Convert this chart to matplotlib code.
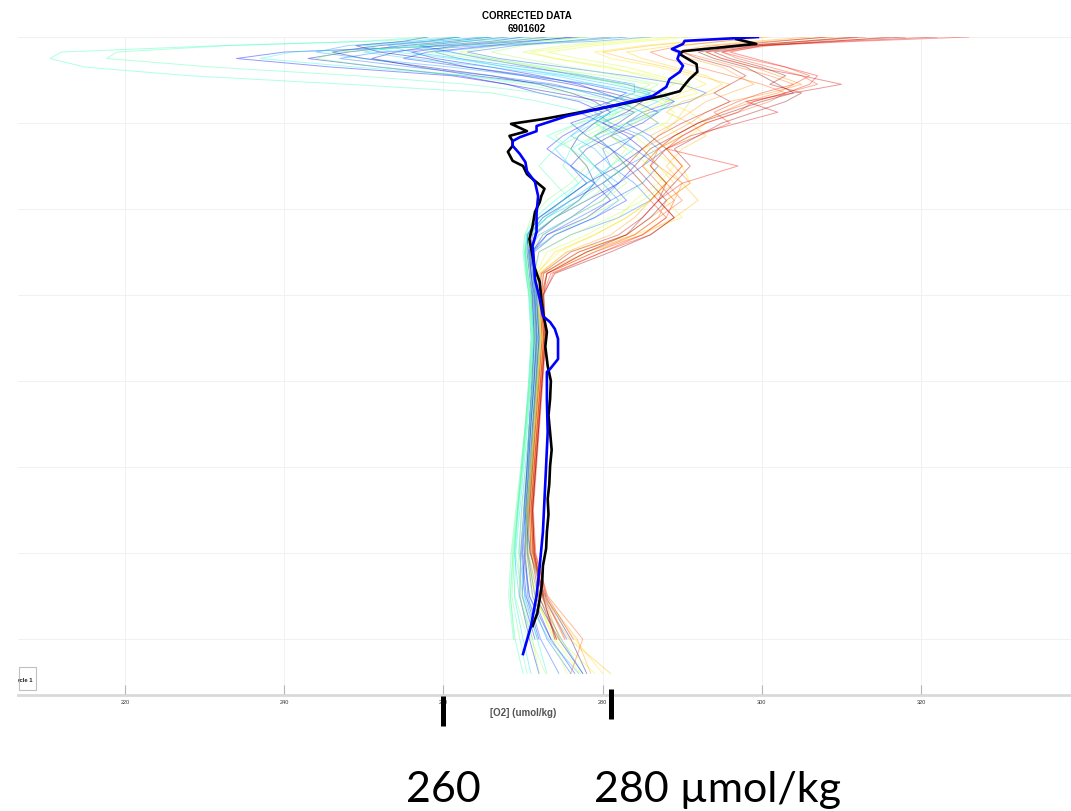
import numpy as np
import matplotlib
matplotlib.use("Agg")
import matplotlib.pyplot as plt
from matplotlib.patches import Rectangle
from matplotlib.lines import Line2D
from matplotlib.transforms import blended_transform_factory

nan = np.nan

# ---------------- data ----------------
title_line1 = "CORRECTED DATA"
title_line2 = "6901602"
x_label = "[O2] (umol/kg)"
x_ticks = [220, 240, 260, 280, 300, 320]
y_grid = [0, 200, 400, 600, 800, 1000, 1200, 1400]
legend_label = "Cycle 1"
note_left = "260"
note_right = "280 µmol/kg"
note_marks = [260, 281]

# pressure levels of the thin cycle profiles (dbar)
pres_levels = [0, 10, 20, 35, 50, 70, 90, 110, 130, 150,
               175, 200, 230, 260, 300, 340, 380, 420, 460, 500,
               550, 600, 700, 800, 900, 1000, 1100, 1200, 1300, 1400, 1480]

cycle_01 = [262, 258, 252, 246, 250, 258, 266, 272, 276, 279,
            281, 279, 277, 276, 278, 279, 277, 274, 271.5, 270.8,
            271.0, 271.3, 271.6, 271.4, 271.0, 270.7, 270.4, 270.6, 271.5, 274.5, 277.5]
cycle_02 = [258, 255, 249, 252, 258, 263, 270, 276, 281, 285,
            283, 280, 283, 285, 282, 278, 275, 272, 270.6, 270.5,
            270.8, 271.1, 271.4, 271.2, 270.8, 270.5, 270.2, 270.9, 272.8, 276.0, 278.0]
cycle_03 = [266, 261, 255, 248, 243, 252, 262, 268, 274, 280,
            284, 282, 279, 281, 283, 280, 276, 272.5, 270.8, 270.9,
            271.2, 271.5, 271.8, 271.6, 271.2, 270.9, 270.5, 270.2, 270.8, 273.5, nan]
cycle_04 = [270, 266, 259, 254, 251, 257, 264, 273, 279, 284,
            287, 285, 281, 278, 276, 279, 281, 278, 273, 271.0,
            271.3, 271.6, 272.0, 271.7, 271.3, 271.0, 270.6, 270.2, 269.9, 271.5, nan]
cycle_05 = [277, 270, 262, 256, 259, 266, 272, 277, 280, 283,
            280, 276, 278, 281, 284, 282, 278, 274, 271.2, 270.8,
            271.0, 271.4, 271.7, 271.4, 271.0, 270.7, 270.3, 269.9, 270.4, 272.0, nan]
cycle_06 = [273, 268, 261, 240, 234, 246, 261, 268, 272, 277,
            280, 278, 275, 273, 276, 278, 275, 272, 270.5, 270.7,
            271.0, 271.2, 271.4, 271.1, 270.8, 270.5, 270.1, 269.7, 269.6, 270.8, 272]
cycle_07 = [276, 271, 266, 258, 255, 263, 271, 278, 283, 281,
            277, 280, 284, 282, 279, 281, 283, 279, 274, 271.4,
            271.5, 271.8, 272.1, 271.8, 271.4, 271.1, 270.7, 270.5, 271.2, 273.5, 276.5]
cycle_08 = [268, 263, 257, 261, 265, 271, 277, 283, 287, 289,
            285, 283, 286, 288, 285, 282, 279, 276, 272.5, 271.2,
            271.4, 271.7, 272.0, 271.7, 271.3, 271.0, 270.5, 270.9, 272.5, 275.5, nan]
cycle_09 = [281, 275, 269, 263, 267, 275, 283, 290, 293, 291,
            286, 283, 281, 284, 287, 285, 281, 277, 273, 271.3,
            271.5, 271.9, 272.2, 271.9, 271.5, 271.2, 270.8, 270.3, 270.6, 272.2, 274.5]
cycle_10 = [283, 276, 265, 252, 247, 256, 266, 274, 278, 282,
            285, 287, 284, 280, 281, 284, 286, 282, 276, 272.0,
            271.4, 271.7, 272.0, 271.6, 271.2, 270.8, 270.4, 270.0, 270.8, 273.0, 276]
cycle_11 = [286, 279, 267, 259, 262, 270, 278, 284, 284, 281,
            279, 281, 285, 287, 283, 280, 282, 279, 274, 271.0,
            271.2, 271.5, 271.8, 271.4, 271.0, 270.6, 270.2, 269.8, 270.2, 271.8, nan]
cycle_12 = [262, 256, 248, 244, 250, 261, 270, 279, 285, 289,
            287, 284, 280, 277, 279, 282, 280, 276, 272, 270.7,
            271.0, 271.4, 271.7, 271.3, 270.9, 270.5, 270.1, 270.6, 271.9, 274.8, 277.5]
cycle_13 = [265, 259, 253, 256, 262, 268, 275, 281, 286, 284,
            281, 278, 276, 279, 281, 279, 276, 273, 270.9, 270.6,
            270.9, 271.2, 271.5, 271.2, 270.8, 270.3, 269.8, 269.5, 270.3, 273.2, 277]
cycle_14 = [271, 263, 256, 250, 256, 266, 274, 279, 283, 287,
            284, 279, 276, 274, 276, 279, 277, 273, 270.6, 270.2,
            270.4, 270.7, 271.0, 270.7, 270.3, 269.8, 269.3, 268.9, 269.5, 271.2, nan]
cycle_15 = [266, 258, 250, 254, 261, 268, 276, 283, 286, 283,
            281, 279, 282, 284, 281, 278, 275, 272.5, 270.6, 270.3,
            270.6, 271.0, 271.3, 271.0, 270.6, 270.1, 269.6, 269.1, 268.9, 270.0, 271]
cycle_16 = [278, 272, 262, 241, 237, 249, 263, 272, 279, 284,
            282, 277, 273, 276, 279, 277, 274, 271.5, 270.2, 270.0,
            270.3, 270.8, 271.1, 270.8, 270.4, 269.9, 269.4, 269.0, 270.0, 271.8, 273]
cycle_17 = [258, 250, 232, 212, 210.6, 215, 228, 248, 266, 272,
            278, 281, 279, 276, 275, 277, 275, 272, 270.4, 270.3,
            270.6, 271.0, 271.3, 270.9, 270.4, 269.9, 269.3, 268.7, 268.4, 269.0, 270.0]
cycle_18 = [262, 251, 233, 219, 217.7, 231, 249, 263, 272, 278,
            282, 280, 277, 274, 272, 274, 276, 273, 270.5, 270.2,
            270.5, 270.9, 271.2, 270.8, 270.3, 269.7, 269.1, 268.5, 268.2, 268.8, nan]
cycle_19 = [268, 262, 256, 260, 266, 273, 278, 282, 285, 288,
            287, 283, 279, 281, 283, 280, 277, 274, 271, 270.4,
            270.6, 271.0, 271.4, 271.0, 270.5, 270.0, 269.4, 268.9, 268.6, 269.6, 270.5]
cycle_20 = [274, 266, 258, 247, 244, 252, 263, 270, 276, 282,
            285, 283, 279, 277, 279, 281, 278, 274, 271, 270.3,
            270.5, 270.9, 271.2, 270.9, 270.4, 269.9, 269.3, 268.8, 268.4, 268.9, nan]
cycle_21 = [275, 268, 262, 258, 264, 272, 280, 286, 284, 281,
            280, 277, 274, 276, 278, 276, 273, 271, 270.3, 270.1,
            270.4, 270.8, 271.1, 270.8, 270.3, 269.8, 269.2, 268.6, 269.0, 270.6, nan]
cycle_22 = [281, 276, 270, 266, 270, 276, 282, 287, 285, 283,
            284, 281, 278, 280, 283, 285, 282, 278, 274, 271.3,
            271.2, 271.6, 271.9, 271.5, 271.1, 270.7, 270.2, 269.6, 269.9, 271.2, 272]
cycle_23 = [278, 272, 267, 262, 266, 272, 277, 283, 288, 286,
            282, 279, 281, 283, 281, 283, 280, 276, 272.5, 270.8,
            270.9, 271.3, 271.6, 271.2, 270.8, 270.4, 269.9, 269.4, 269.6, 271.0, 272.8]
cycle_24 = [286, 281, 275, 270, 274, 281, 285, 289, 287, 284,
            286, 284, 281, 283, 286, 288, 285, 281, 276, 272.0,
            271.5, 271.8, 272.1, 271.7, 271.3, 270.9, 270.4, 270.6, 271.6, 273.8, 275.5]
cycle_25 = [291, 285, 279, 273, 277, 283, 287, 291, 289, 287,
            289, 288, 284, 286, 289, 287, 284, 282, 278, 273.0,
            271.6, 271.9, 272.2, 271.8, 271.4, 271.0, 270.6, 270.2, 271.2, 274.5, 279]
cycle_26 = [289, 283, 277, 271, 274, 280, 286, 290, 292, 288,
            285, 287, 290, 287, 285, 288, 286, 283, 279, 274.5,
            271.7, 271.9, 272.2, 271.8, 271.4, 271.0, 270.5, 270.4, 271.5, 274.0, 277.2]
cycle_27 = [296, 291, 285, 279, 281, 287, 291, 293, 290, 288,
            291, 293, 291, 288, 290, 291, 288, 290, 284, 275.5,
            272.0, 272.1, 272.4, 272.0, 271.6, 271.2, 270.8, 271.0, 272.6, 276.5, 280]
cycle_28 = [301, 295, 289, 283, 285, 289, 293, 295, 293, 291,
            290, 289, 287, 285, 287, 289, 286, 283, 279, 274.0,
            271.8, 272.0, 272.3, 271.9, 271.5, 271.1, 270.7, 270.7, 271.9, 274.8, nan]
cycle_29 = [298, 292, 286, 280, 283, 288, 292, 296, 294, 290,
            288, 291, 293, 290, 288, 290, 292, 289, 285, 278,
            272.3, 272.1, 272.4, 272.0, 271.6, 271.2, 270.8, 271.0, 272.2, 275.8, 281]
cycle_30 = [306, 299, 293, 289, 291, 295, 297, 299, 296, 293,
            291, 289, 286, 288, 290, 288, 286, 284, 281, 275.5,
            272.1, 272.2, 272.5, 272.1, 271.7, 271.3, 270.9, 271.1, 272.6, 276.8, 278.5]
cycle_31 = [311, 305, 297, 293, 295, 299, 302, 305, 301, 296,
            293, 291, 288, 285, 287, 290, 289, 286, 283, 277,
            272.5, 272.3, 272.6, 272.2, 271.8, 271.4, 271.0, 271.3, 272.9, 275.3, nan]
cycle_32 = [309, 301, 294, 290, 293, 297, 301, 304, 302, 298,
            295, 292, 289, 287, 289, 291, 288, 287, 284, 279,
            273, 272.4, 272.7, 272.3, 271.9, 271.5, 271.1, 271.2, 272.5, 274.6, nan]
cycle_33 = [300, 295, 290, 286, 288, 292, 296, 300, 303, 301,
            297, 293, 290, 287, 286, 288, 290, 287, 284, 278,
            273, 272.4, 272.7, 272.3, 271.9, 271.5, 271.1, 271.5, 273.1, 277.5, 276]
cycle_34 = [316, 309, 301, 295, 297, 301, 305, 307, 303, 299,
            295, 292, 289, 287, 285, 287, 289, 288, 285, 279,
            273, 272.3, 272.6, 272.2, 271.8, 271.4, 271.0, 271.2, 272.7, 275.2, nan]
cycle_35 = [313, 306, 299, 295, 298, 303, 306, 304, 300, 297,
            294, 296, 292, 288, 290, 288, 286, 288, 285, 280,
            273.8, 272.6, 272.9, 272.5, 272.1, 271.7, 271.3, 271.6, 273.0, 276.3, nan]
cycle_36 = [326, 312, 300, 296, 299, 303, 307, 306, 303, 299,
            297, 293, 290, 288, 297, 290, 287, 289, 286, 280,
            273.5, 272.5, 272.8, 272.4, 272.0, 271.6, 271.2, 271.5, 272.9, nan, nan]
cycle_37 = [322, 310, 299, 293, 295, 299, 305, 310, 304, 298,
            302, 297, 291, 288, 286, 288, 287, 285, 283, 277,
            272.6, 272.3, 272.6, 272.2, 271.8, 271.4, 271.0, 271.3, 272.4, 274.2, nan]
cycle_38 = [308, 302, 296, 290, 292, 296, 298, 296, 294, 296,
            293, 290, 287, 285, 283, 285, 287, 285, 282, 276,
            272.3, 272.1, 272.4, 272.0, 271.6, 271.2, 270.8, 271.0, 272.0, 274.2, nan]
cycle_39 = [318, 308, 300, 294, 296, 300, 303, 301, 305, 303,
            299, 295, 292, 289, 291, 289, 287, 289, 286, 281,
            274, 272.5, 272.8, 272.4, 272.0, 271.6, 271.2, 271.4, 272.5, 274.0, nan]
cycle_40 = [312, 305, 298, 292, 294, 298, 300, 302, 304, 300,
            296, 292, 289, 286, 284, 286, 288, 286, 283, 278,
            273, 272.6, 272.8, 272.4, 272.0, 271.6, 271.2, 271.4, 272.6, nan, nan]

# thick reference profiles
black_pres = [5, 16, 33, 40, 63, 81, 98, 116, 126, 137,
              151, 174, 191, 202, 219, 230, 242, 253, 267, 288,
              300, 319, 330, 353, 370, 384, 407, 440, 470, 509,
              533, 570, 610, 650, 686, 720, 765, 800, 842, 880,
              919, 960, 998, 1040, 1074, 1110, 1151, 1190, 1230, 1270,
              1307, 1340, 1370]
black_o2 = [296.8, 299.3, 290.1, 289.7, 291.8, 291.9, 290.9, 290.1, 289.7, 287.5,
            283.8, 277.5, 272.5, 268.5, 270.5, 268.3, 268.7, 268.7, 268.1, 268.7,
            270.0, 270.5, 271.2, 272.7, 272.3, 272.1, 271.5, 271.2, 270.8, 271.2,
            271.4, 272.1, 272.3, 272.6, 273.0, 272.8, 273.1, 273.5, 273.4, 273.2,
            273.4, 273.6, 273.4, 273.3, 273.1, 273.2, 273.0, 272.9, 272.5, 272.4,
            272.1, 271.8, 271.2]
blue_pres = [0, 9, 16, 28, 35, 51, 67, 81, 98, 116,
             137, 149, 167, 184, 207, 219, 233, 242, 253, 272,
             291, 312, 337, 370, 410, 453, 486, 530, 563, 609,
             649, 663, 679, 702, 749, 772, 779, 842, 919, 998,
             1074, 1151, 1230, 1300, 1370, 1435]
blue_o2 = [299.5, 290.3, 290.1, 288.7, 289.7, 289.4, 290.1, 289.7, 288.4, 288.0,
           286.3, 283.8, 279.6, 275.5, 271.7, 271.7, 269.6, 268.7, 268.7, 269.6,
           270.3, 270.5, 271.5, 271.9, 271.7, 271.7, 271.2, 271.4, 271.5, 272.1,
           272.5, 273.4, 274.0, 274.4, 274.4, 273.4, 273.0, 273.0, 273.1, 272.9,
           272.7, 272.5, 272.1, 271.7, 271.0, 270.0]

cycles = [cycle_01, cycle_02, cycle_03, cycle_04, cycle_05, cycle_06, cycle_07,
          cycle_08, cycle_09, cycle_10, cycle_11, cycle_12, cycle_13, cycle_14,
          cycle_15, cycle_16, cycle_17, cycle_18, cycle_19, cycle_20, cycle_21,
          cycle_22, cycle_23, cycle_24, cycle_25, cycle_26, cycle_27, cycle_28,
          cycle_29, cycle_30, cycle_31, cycle_32, cycle_33, cycle_34, cycle_35,
          cycle_36, cycle_37, cycle_38, cycle_39, cycle_40]

# ---------------- figure ----------------
W, H = 1071, 812
fig = plt.figure(figsize=(W / 100, H / 100), dpi=100)
fig.patch.set_facecolor("white")

ax_left, ax_right, ax_top, ax_bottom = 18, 1071, 38, 696
ax = fig.add_axes([ax_left / W, 1 - ax_bottom / H,
                   (ax_right - ax_left) / W, (ax_bottom - ax_top) / H])

mfont = "Liberation Sans"
cmap = plt.get_cmap("jet")
n = len(cycles)
for i, prof in enumerate(cycles):
    ax.plot(prof, pres_levels, color=cmap(i / (n - 1)), lw=0.7, alpha=0.4,
            label=legend_label if i == 0 else None)

ax.plot(black_o2, black_pres, color="black", lw=1.9)
ax.plot(blue_o2, blue_pres, color="#0000ff", lw=1.9)

# axis scaling: 220 at x=125 px, 20 units = 159.3 px
ppu = 159.3 / 20.0
ax.set_xlim(220 - (125 - ax_left) / ppu, 320 + (ax_right - 921) / ppu)
ax.set_ylim((ax_bottom - ax_top) * 200.0 / 86.0, 0)

ax.set_xticks(x_ticks)
ax.set_xticklabels([str(t) for t in x_ticks], fontsize=4, color="#333333",
                   family=mfont)
ax.set_yticks(y_grid)
ax.set_yticklabels([])
ax.tick_params(axis="x", direction="in", length=7, width=0.8, color="#b5b5b5", pad=3)
ax.tick_params(axis="y", length=0)
ax.grid(True, color="#efefef", lw=0.6)
ax.set_axisbelow(True)
for s in ["top", "right", "left"]:
    ax.spines[s].set_visible(False)
ax.spines["bottom"].set_color("#d9d9d9")
ax.spines["bottom"].set_linewidth(2.0)

# clipped legend box (cut at the left edge)
aw = ax_right - ax_left
ah = ax_bottom - ax_top
box = Rectangle((0.0006, (ax_bottom - 691) / ah), (35 - ax_left) / aw, 23 / ah,
                transform=ax.transAxes, facecolor="white", edgecolor="#c0c0c0",
                lw=0.8, clip_on=True, zorder=5)
ax.add_patch(box)
ax.text((33 - ax_left) / aw, (ax_bottom - 681) / ah, legend_label,
        transform=ax.transAxes, ha="right", va="center", fontsize=4.2,
        fontweight="bold", family=mfont, color="#222222", clip_on=True, zorder=6)

# titles and label
fig.text(527 / W, 1 - 16 / H, title_line1, ha="center", va="center",
         fontsize=7, fontweight="bold", family=mfont)
fig.text(527 / W, 1 - 29 / H, title_line2, ha="center", va="center",
         fontsize=7, fontweight="bold", family=mfont)
fig.text(523 / W, 1 - 713 / H, x_label, ha="center", va="center",
         fontsize=7, fontweight="bold", color="#555555", family=mfont)

# annotation marks and big labels
trans = blended_transform_factory(ax.transData, fig.transFigure)
fig.add_artist(Line2D([note_marks[0], note_marks[0]], [1 - 697 / H, 1 - 727 / H],
                      transform=trans, color="black", lw=3.6, solid_capstyle="butt"))
fig.add_artist(Line2D([note_marks[1], note_marks[1]], [1 - 690 / H, 1 - 720 / H],
                      transform=trans, color="black", lw=3.6, solid_capstyle="butt"))
fig.text(note_marks[0], 1 - 802 / H, note_left, transform=trans, ha="center",
         va="baseline", fontsize=31, family="Lato", color="black")
fig.text(278.9, 1 - 802 / H, note_right, transform=trans, ha="left",
         va="baseline", fontsize=31, family="Lato", color="black")

fig.savefig("out.png", dpi=100)
